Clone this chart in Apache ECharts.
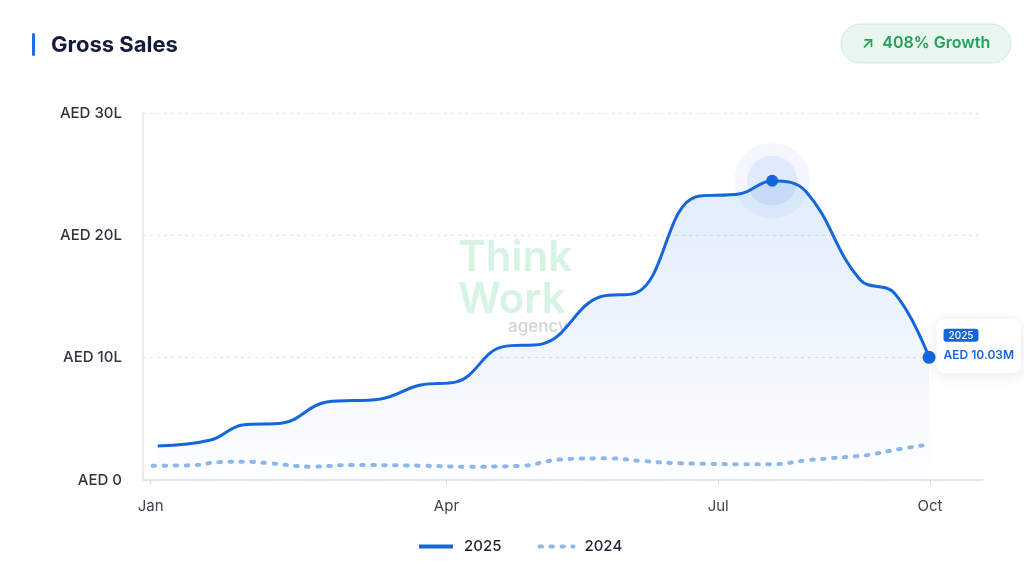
<!DOCTYPE html>
<html>
<head>
<meta charset="utf-8">
<script src="https://cdn.jsdelivr.net/npm/echarts@6/dist/echarts.min.js"></script>
<style>
html,body{margin:0;padding:0;background:#fff;}
#chart{width:1024px;height:577px;}
</style>
</head>
<body>
<div id="chart"></div>
<script>
// x positions are in "week" units along the period
var monthTicks = [1, 15.8, 29.4, 40];
var monthLabels = ['Jan', 'Apr', 'Jul', 'Oct'];
var yTicks = [0, 10, 20, 30];

var weeks2025 = [1.35, 4.0, 5.6, 7.6, 9.8, 12.5, 14.5, 16.3, 18.6, 20.6, 23.5, 25.3, 28.3, 30.5, 32.1, 33.8, 36.5, 38.2, 39.95];
var sales2025 = [2.78, 3.27, 4.5, 4.66, 6.38, 6.63, 7.77, 8.02, 10.88, 11.13, 14.98, 15.3, 23.16, 23.4, 24.47, 23.57, 16.37, 15.3, 10.03];

var weeks2024 = [1.1, 3.0, 4.5, 5.8, 6.8, 9.1, 11.1, 14.5, 16.8, 19.5, 21.5, 24.0, 25.6, 27.5, 32.0, 34.0, 36.9, 38.2, 40.0];
var sales2024 = [1.17, 1.2, 1.47, 1.5, 1.39, 1.09, 1.23, 1.17, 1.09, 1.15, 1.68, 1.77, 1.55, 1.37, 1.28, 1.64, 2.05, 2.45, 2.92];

var growthText = '408% Growth';

function pairs(xs, ys) { return xs.map(function (x, i) { return [x, ys[i]]; }); }
var d2025 = pairs(weeks2025, sales2025);
var d2024 = pairs(weeks2024, sales2024);
var peakIdx = sales2025.indexOf(Math.max.apply(null, sales2025));
var peak = d2025[peakIdx];
var last = d2025[d2025.length - 1];

var BLUE = '#1466d9';
var FONT = 'Inter, "Noto Sans", sans-serif';

var chart = echarts.init(document.getElementById('chart'));
chart.setOption({
  animation: false,
  backgroundColor: '#ffffff',
  textStyle: { fontFamily: FONT },
  grid: { left: 143, right: 41, top: 113, bottom: 97 },
  legend: {
    bottom: 18,
    left: 412,
    itemWidth: 34,
    itemHeight: 14,
    itemGap: 36,
    data: ['2025', '2024'],
    itemStyle: { opacity: 0 },
    lineStyle: { width: 4 },
    textStyle: { fontSize: 15, color: '#1e2235', fontFamily: FONT, fontWeight: 500, padding: [0, 0, 0, 6] }
  },
  graphic: [
    { type: 'rect', shape: { x: 32, y: 33, width: 3, height: 23, r: 1.5 }, style: { fill: '#1a6fe0' } },
    { type: 'text', x: 51, y: 45, style: { text: 'Gross Sales', font: 'bold 22px ' + FONT, fill: '#161b3d', textVerticalAlign: 'middle' } },
    { type: 'rect', shape: { x: 841, y: 24, width: 170, height: 39, r: 19.5 }, style: { fill: '#e9f7ef', stroke: '#cfecdb', lineWidth: 1 } },
    { type: 'text', x: 926, y: 43.5, style: { text: '\u2197  ' + growthText, font: '600 16px ' + FONT, fill: '#23a05b', textAlign: 'center', textVerticalAlign: 'middle' } },
    { type: 'text', x: 458, y: 258, z: 0, style: { text: 'Think', font: '600 42px ' + FONT, fill: '#d6f3e4', textVerticalAlign: 'middle' } },
    { type: 'text', x: 458, y: 300, z: 0, style: { text: 'Work', font: '600 42px ' + FONT, fill: '#d6f3e4', textVerticalAlign: 'middle' } },
    { type: 'text', x: 508, y: 327, z: 0, style: { text: 'agency', font: '500 17px ' + FONT, fill: '#d3d3d6', textVerticalAlign: 'middle' } }
  ],
  xAxis: {
    type: 'value',
    min: 0.615,
    max: 42.65,
    axisLine: { show: true, lineStyle: { color: '#dedfe3', width: 1.5 } },
    axisTick: { show: true, customValues: monthTicks, length: 5, lineStyle: { color: '#d6d7db' } },
    axisLabel: {
      customValues: monthTicks,
      margin: 19,
      fontSize: 15,
      color: '#3f4350',
      formatter: function (v) { var i = monthTicks.indexOf(v); return i >= 0 ? monthLabels[i] : ''; }
    },
    splitLine: { show: false }
  },
  yAxis: {
    type: 'value',
    min: yTicks[0],
    max: yTicks[yTicks.length - 1],
    interval: 10,
    axisLine: { show: true, lineStyle: { color: '#e3e4e8', width: 1.5 } },
    axisTick: { show: false },
    axisLabel: {
      margin: 21,
      fontSize: 15,
      fontWeight: 500,
      color: '#30343f',
      formatter: function (v) { return v === 0 ? 'AED 0' : 'AED ' + v + 'L'; }
    },
    splitLine: { show: true, lineStyle: { color: '#e2e3e6', type: [3, 4], width: 1 } }
  },
  series: [
    {
      name: '2025',
      type: 'line',
      data: d2025,
      smooth: 0.4,
      symbol: 'none',
      z: 5,
      lineStyle: { color: BLUE, width: 3 },
      itemStyle: { color: BLUE },
      areaStyle: {
        color: new echarts.graphic.LinearGradient(0, 0, 0, 1, [
          { offset: 0, color: 'rgba(40,120,230,0.20)' },
          { offset: 0.6, color: 'rgba(40,120,230,0.09)' },
          { offset: 1, color: 'rgba(40,120,230,0.01)' }
        ])
      },
      markPoint: {
        symbol: 'circle',
        symbolSize: 13,
        itemStyle: { color: BLUE },
        data: [{
          coord: last,
          value: last[1],
          label: {
            show: true,
            position: 'right',
            distance: 1,
            offset: [0, -11],
            formatter: function (p) { return '{badge|2025}\n{val|AED ' + p.value.toFixed(2) + 'M}'; },
            backgroundColor: '#ffffff',
            borderRadius: 8,
            padding: [8, 7, 6, 7],
            shadowBlur: 14,
            shadowColor: 'rgba(0,0,0,0.10)',
            shadowOffsetY: 2,
            rich: {
              badge: { backgroundColor: BLUE, color: '#fff', fontSize: 10, fontWeight: 500, padding: [2, 5, 1, 5], borderRadius: 3, lineHeight: 16 },
              val: { color: BLUE, fontSize: 12, fontWeight: 600, lineHeight: 24, fontFamily: FONT }
            }
          }
        }]
      }
    },
    {
      name: '2024',
      type: 'line',
      data: d2024,
      smooth: 0.4,
      symbol: 'none',
      z: 4,
      lineStyle: { color: '#8db8ec', width: 4, type: [2.5, 8.5], cap: 'round' },
      itemStyle: { color: '#8db8ec' }
    },
    {
      name: 'peakHaloOuter',
      type: 'scatter',
      data: [peak],
      symbolSize: 76,
      z: 3,
      silent: true,
      itemStyle: { color: 'rgba(40,120,230,0.05)', opacity: 1 }
    },
    {
      name: 'peakHaloInner',
      type: 'scatter',
      data: [peak],
      symbolSize: 50,
      z: 3,
      silent: true,
      itemStyle: { color: 'rgba(40,120,230,0.10)', opacity: 1 }
    },
    {
      name: 'peakDot',
      type: 'scatter',
      data: [peak],
      symbolSize: 12,
      z: 6,
      silent: true,
      itemStyle: { color: BLUE, opacity: 1 }
    }
  ]
});
</script>
</body>
</html>
